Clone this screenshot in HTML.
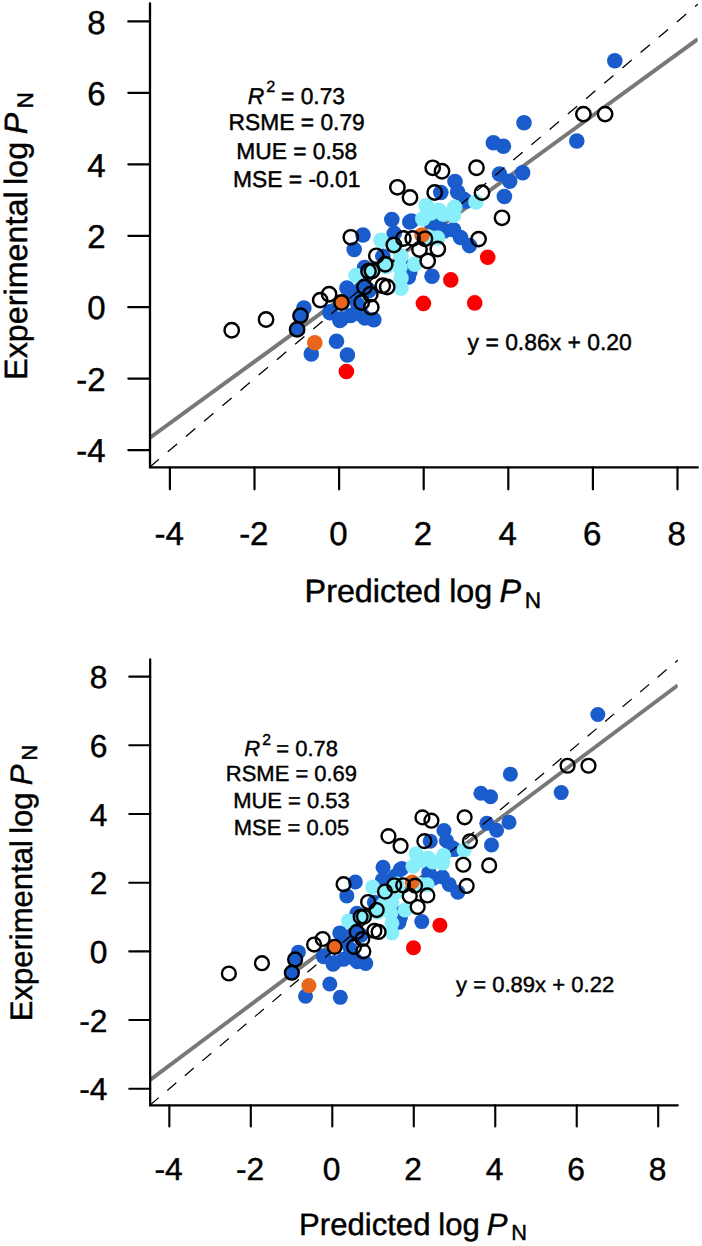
<!DOCTYPE html><html><head><meta charset="utf-8"><style>html,body{margin:0;padding:0;background:#fff;}svg{display:block}</style></head><body>
<svg width="702" height="1246" viewBox="0 0 702 1246" font-family='"Liberation Sans", sans-serif' fill="#000" text-rendering="geometricPrecision"><style>text{stroke:#000;stroke-width:0.45px}</style>
<rect width="702" height="1246" fill="#fff"/>
<g>
<defs><clipPath id="c1"><rect x="150.0" y="3.4" width="547.8" height="464.0"/></clipPath></defs>
<path d="M150.0,437.60L697.8,39.07" stroke="#787878" stroke-width="4.0" clip-path="url(#c1)"/>
<circle cx="583.4" cy="114.1" r="7.2" fill="#fff"/>
<circle cx="605.1" cy="114.1" r="7.2" fill="#fff"/>
<circle cx="476.5" cy="167.7" r="7.2" fill="#fff"/>
<circle cx="442.0" cy="171.2" r="7.2" fill="#fff"/>
<circle cx="432.7" cy="167.8" r="7.2" fill="#fff"/>
<circle cx="482.0" cy="192.6" r="7.2" fill="#fff"/>
<circle cx="502.0" cy="217.8" r="7.2" fill="#fff"/>
<circle cx="478.6" cy="239.1" r="7.2" fill="#fff"/>
<circle cx="397.4" cy="187.3" r="7.2" fill="#fff"/>
<circle cx="410.0" cy="197.5" r="7.2" fill="#fff"/>
<circle cx="434.7" cy="192.5" r="7.2" fill="#fff"/>
<circle cx="393.8" cy="245.0" r="7.2" fill="#fff"/>
<circle cx="403.4" cy="238.5" r="7.2" fill="#fff"/>
<circle cx="412.7" cy="238.5" r="7.2" fill="#fff"/>
<circle cx="425.0" cy="238.8" r="7.2" fill="#fff"/>
<circle cx="437.8" cy="249.0" r="7.2" fill="#fff"/>
<circle cx="419.5" cy="249.5" r="7.2" fill="#fff"/>
<circle cx="427.7" cy="261.0" r="7.2" fill="#fff"/>
<circle cx="350.8" cy="237.3" r="7.2" fill="#fff"/>
<circle cx="231.7" cy="330.2" r="7.2" fill="#fff"/>
<circle cx="266.05" cy="319.5" r="7.2" fill="#fff"/>
<circle cx="376.3" cy="255.8" r="7.2" fill="#fff"/>
<circle cx="385.2" cy="264.2" r="7.2" fill="#fff"/>
<circle cx="372.0" cy="271.0" r="7.2" fill="#fff"/>
<circle cx="368.5" cy="271.3" r="7.2" fill="#fff"/>
<circle cx="382.8" cy="285.8" r="7.2" fill="#fff"/>
<circle cx="387.2" cy="287.0" r="7.2" fill="#fff"/>
<circle cx="364.5" cy="287.0" r="7.2" fill="#fff"/>
<circle cx="370.3" cy="294.3" r="7.2" fill="#fff"/>
<circle cx="361.7" cy="302.5" r="7.2" fill="#fff"/>
<circle cx="371.3" cy="307.2" r="7.2" fill="#fff"/>
<circle cx="320.2" cy="300.1" r="7.2" fill="#fff"/>
<circle cx="329.1" cy="294.3" r="7.2" fill="#fff"/>
<circle cx="614.8" cy="60.7" r="7.8" fill="#1a5ccc"/>
<circle cx="576.8" cy="141.0" r="7.8" fill="#1a5ccc"/>
<circle cx="524.0" cy="122.8" r="7.8" fill="#1a5ccc"/>
<circle cx="493.4" cy="142.7" r="7.8" fill="#1a5ccc"/>
<circle cx="503.4" cy="146.3" r="7.8" fill="#1a5ccc"/>
<circle cx="455.0" cy="181.5" r="7.8" fill="#1a5ccc"/>
<circle cx="499.5" cy="174.0" r="7.8" fill="#1a5ccc"/>
<circle cx="509.7" cy="181.2" r="7.8" fill="#1a5ccc"/>
<circle cx="522.6" cy="172.8" r="7.8" fill="#1a5ccc"/>
<circle cx="440.8" cy="192.5" r="7.8" fill="#1a5ccc"/>
<circle cx="457.6" cy="192.1" r="7.8" fill="#1a5ccc"/>
<circle cx="466.0" cy="201.3" r="7.8" fill="#1a5ccc"/>
<circle cx="504.4" cy="196.5" r="7.8" fill="#1a5ccc"/>
<circle cx="444.3" cy="231.0" r="7.8" fill="#1a5ccc"/>
<circle cx="453.5" cy="229.8" r="7.8" fill="#1a5ccc"/>
<circle cx="460.5" cy="237.5" r="7.8" fill="#1a5ccc"/>
<circle cx="469.5" cy="245.6" r="7.8" fill="#1a5ccc"/>
<circle cx="439.3" cy="225.2" r="7.8" fill="#1a5ccc"/>
<circle cx="391.8" cy="219.6" r="7.8" fill="#1a5ccc"/>
<circle cx="409.8" cy="222.0" r="7.8" fill="#1a5ccc"/>
<circle cx="363.0" cy="235.0" r="7.8" fill="#1a5ccc"/>
<circle cx="354.2" cy="249.5" r="7.8" fill="#1a5ccc"/>
<circle cx="432.0" cy="276.2" r="7.8" fill="#1a5ccc"/>
<circle cx="409.8" cy="272.0" r="7.8" fill="#1a5ccc"/>
<circle cx="408.4" cy="277.0" r="7.8" fill="#1a5ccc"/>
<circle cx="303.9" cy="308.0" r="7.8" fill="#1a5ccc"/>
<circle cx="300.5" cy="315.6" r="7.8" fill="#1a5ccc"/>
<circle cx="297.1" cy="329.4" r="7.8" fill="#1a5ccc"/>
<circle cx="311.3" cy="353.9" r="7.8" fill="#1a5ccc"/>
<circle cx="336.5" cy="341.2" r="7.8" fill="#1a5ccc"/>
<circle cx="347.4" cy="355.0" r="7.8" fill="#1a5ccc"/>
<circle cx="330.1" cy="312.8" r="7.8" fill="#1a5ccc"/>
<circle cx="341.5" cy="318.8" r="7.8" fill="#1a5ccc"/>
<circle cx="350.7" cy="315.5" r="7.8" fill="#1a5ccc"/>
<circle cx="361.9" cy="314.9" r="7.8" fill="#1a5ccc"/>
<circle cx="373.8" cy="319.8" r="7.8" fill="#1a5ccc"/>
<circle cx="346.9" cy="288.0" r="7.8" fill="#1a5ccc"/>
<circle cx="339.9" cy="320.5" r="7.8" fill="#1a5ccc"/>
<circle cx="330.0" cy="311.9" r="7.8" fill="#1a5ccc"/>
<circle cx="352.0" cy="297.0" r="7.8" fill="#1a5ccc"/>
<circle cx="432" cy="226" r="7.8" fill="#1a5ccc"/>
<circle cx="356" cy="292" r="7.8" fill="#1a5ccc"/>
<circle cx="358" cy="305" r="7.8" fill="#1a5ccc"/>
<circle cx="365" cy="318" r="7.8" fill="#1a5ccc"/>
<circle cx="411.4" cy="221" r="7.8" fill="#1a5ccc"/>
<circle cx="394.2" cy="233.4" r="7.8" fill="#1a5ccc"/>
<circle cx="382.8" cy="256.2" r="7.8" fill="#1a5ccc"/>
<circle cx="409" cy="267.6" r="7.8" fill="#1a5ccc"/>
<circle cx="364.6" cy="267.6" r="7.8" fill="#1a5ccc"/>
<circle cx="363.4" cy="283.6" r="7.8" fill="#1a5ccc"/>
<circle cx="369.1" cy="290.4" r="7.8" fill="#1a5ccc"/>
<circle cx="463.8" cy="199.4" r="7.8" fill="#1a5ccc"/>
<path d="M149.6,467.2L697.8,4.3" stroke="#000" stroke-width="1.3" stroke-dasharray="12.2 11.6" fill="none"/>
<circle cx="431" cy="213" r="7.8" fill="#88eefa"/>
<circle cx="476.0" cy="202.0" r="7.8" fill="#88eefa"/>
<circle cx="454.7" cy="207.4" r="7.8" fill="#88eefa"/>
<circle cx="438.7" cy="210.2" r="7.8" fill="#88eefa"/>
<circle cx="426.2" cy="205.6" r="7.8" fill="#88eefa"/>
<circle cx="422.8" cy="218.7" r="7.8" fill="#88eefa"/>
<circle cx="453.6" cy="215.3" r="7.8" fill="#88eefa"/>
<circle cx="443.3" cy="214.2" r="7.8" fill="#88eefa"/>
<circle cx="381.1" cy="240.3" r="7.8" fill="#88eefa"/>
<circle cx="395.3" cy="246" r="7.8" fill="#88eefa"/>
<circle cx="401" cy="256.2" r="7.8" fill="#88eefa"/>
<circle cx="399.9" cy="267.6" r="7.8" fill="#88eefa"/>
<circle cx="401" cy="277.9" r="7.8" fill="#88eefa"/>
<circle cx="401" cy="288.1" r="7.8" fill="#88eefa"/>
<circle cx="414.7" cy="264.2" r="7.8" fill="#88eefa"/>
<circle cx="428.4" cy="236.8" r="7.8" fill="#88eefa"/>
<circle cx="437.5" cy="238" r="7.8" fill="#88eefa"/>
<circle cx="371.4" cy="271" r="7.8" fill="#88eefa"/>
<circle cx="386.2" cy="266.5" r="7.8" fill="#88eefa"/>
<circle cx="356" cy="275.5" r="7.8" fill="#88eefa"/>
<circle cx="422.0" cy="235.0" r="7.8" fill="#e8661c"/>
<circle cx="341.5" cy="302.5" r="7.8" fill="#e8661c"/>
<circle cx="314.8" cy="342.8" r="7.8" fill="#e8661c"/>
<circle cx="487.7" cy="257.3" r="7.8" fill="#fa0000"/>
<circle cx="450.8" cy="279.9" r="7.8" fill="#fa0000"/>
<circle cx="423.4" cy="303.4" r="7.8" fill="#fa0000"/>
<circle cx="474.7" cy="302.9" r="7.8" fill="#fa0000"/>
<circle cx="346.4" cy="371.5" r="7.8" fill="#fa0000"/>
<circle cx="583.4" cy="114.1" r="7.2" fill="none" stroke="#000" stroke-width="2.45"/>
<circle cx="605.1" cy="114.1" r="7.2" fill="none" stroke="#000" stroke-width="2.45"/>
<circle cx="476.5" cy="167.7" r="7.2" fill="none" stroke="#000" stroke-width="2.45"/>
<circle cx="442.0" cy="171.2" r="7.2" fill="none" stroke="#000" stroke-width="2.45"/>
<circle cx="432.7" cy="167.8" r="7.2" fill="none" stroke="#000" stroke-width="2.45"/>
<circle cx="482.0" cy="192.6" r="7.2" fill="none" stroke="#000" stroke-width="2.45"/>
<circle cx="502.0" cy="217.8" r="7.2" fill="none" stroke="#000" stroke-width="2.45"/>
<circle cx="478.6" cy="239.1" r="7.2" fill="none" stroke="#000" stroke-width="2.45"/>
<circle cx="397.4" cy="187.3" r="7.2" fill="none" stroke="#000" stroke-width="2.45"/>
<circle cx="410.0" cy="197.5" r="7.2" fill="none" stroke="#000" stroke-width="2.45"/>
<circle cx="434.7" cy="192.5" r="7.2" fill="none" stroke="#000" stroke-width="2.45"/>
<circle cx="393.8" cy="245.0" r="7.2" fill="none" stroke="#000" stroke-width="2.45"/>
<circle cx="403.4" cy="238.5" r="7.2" fill="none" stroke="#000" stroke-width="2.45"/>
<circle cx="412.7" cy="238.5" r="7.2" fill="none" stroke="#000" stroke-width="2.45"/>
<circle cx="425.0" cy="238.8" r="7.2" fill="none" stroke="#000" stroke-width="2.45"/>
<circle cx="437.8" cy="249.0" r="7.2" fill="none" stroke="#000" stroke-width="2.45"/>
<circle cx="419.5" cy="249.5" r="7.2" fill="none" stroke="#000" stroke-width="2.45"/>
<circle cx="427.7" cy="261.0" r="7.2" fill="none" stroke="#000" stroke-width="2.45"/>
<circle cx="350.8" cy="237.3" r="7.2" fill="none" stroke="#000" stroke-width="2.45"/>
<circle cx="231.7" cy="330.2" r="7.2" fill="none" stroke="#000" stroke-width="2.45"/>
<circle cx="266.05" cy="319.5" r="7.2" fill="none" stroke="#000" stroke-width="2.45"/>
<circle cx="376.3" cy="255.8" r="7.2" fill="none" stroke="#000" stroke-width="2.45"/>
<circle cx="385.2" cy="264.2" r="7.2" fill="none" stroke="#000" stroke-width="2.45"/>
<circle cx="372.0" cy="271.0" r="7.2" fill="none" stroke="#000" stroke-width="2.45"/>
<circle cx="368.5" cy="271.3" r="7.2" fill="none" stroke="#000" stroke-width="2.45"/>
<circle cx="382.8" cy="285.8" r="7.2" fill="none" stroke="#000" stroke-width="2.45"/>
<circle cx="387.2" cy="287.0" r="7.2" fill="none" stroke="#000" stroke-width="2.45"/>
<circle cx="364.5" cy="287.0" r="7.2" fill="none" stroke="#000" stroke-width="2.45"/>
<circle cx="370.3" cy="294.3" r="7.2" fill="none" stroke="#000" stroke-width="2.45"/>
<circle cx="361.7" cy="302.5" r="7.2" fill="none" stroke="#000" stroke-width="2.45"/>
<circle cx="371.3" cy="307.2" r="7.2" fill="none" stroke="#000" stroke-width="2.45"/>
<circle cx="320.2" cy="300.1" r="7.2" fill="none" stroke="#000" stroke-width="2.45"/>
<circle cx="329.1" cy="294.3" r="7.2" fill="none" stroke="#000" stroke-width="2.45"/>
<circle cx="297.1" cy="329.4" r="7.2" fill="none" stroke="#000" stroke-width="2.45"/>
<circle cx="300.5" cy="315.6" r="7.2" fill="none" stroke="#000" stroke-width="2.45"/>
<circle cx="341.5" cy="302.5" r="7.2" fill="none" stroke="#000" stroke-width="2.45"/>
<path d="M150.0,3.4V467.4H697.8" fill="none" stroke="#000" stroke-width="2.3" stroke-linecap="round" stroke-linejoin="miter"/>
<path d="M150.0,450.1H128.3" stroke="#000" stroke-width="2.2" stroke-linecap="round"/>
<text x="105.7" y="462.3" text-anchor="end" font-size="33">-4</text>
<path d="M169.9,467.4V489.3" stroke="#000" stroke-width="2.2" stroke-linecap="round"/>
<text x="169.2" y="544.6" text-anchor="middle" font-size="33">-4</text>
<path d="M150.0,378.6H128.3" stroke="#000" stroke-width="2.2" stroke-linecap="round"/>
<text x="105.7" y="390.8" text-anchor="end" font-size="33">-2</text>
<path d="M254.5,467.4V489.3" stroke="#000" stroke-width="2.2" stroke-linecap="round"/>
<text x="253.8" y="544.6" text-anchor="middle" font-size="33">-2</text>
<path d="M150.0,307.2H128.3" stroke="#000" stroke-width="2.2" stroke-linecap="round"/>
<text x="105.7" y="319.4" text-anchor="end" font-size="33">0</text>
<path d="M339.1,467.4V489.3" stroke="#000" stroke-width="2.2" stroke-linecap="round"/>
<text x="338.4" y="544.6" text-anchor="middle" font-size="33">0</text>
<path d="M150.0,235.8H128.3" stroke="#000" stroke-width="2.2" stroke-linecap="round"/>
<text x="105.7" y="247.9" text-anchor="end" font-size="33">2</text>
<path d="M423.7,467.4V489.3" stroke="#000" stroke-width="2.2" stroke-linecap="round"/>
<text x="423.0" y="544.6" text-anchor="middle" font-size="33">2</text>
<path d="M150.0,164.3H128.3" stroke="#000" stroke-width="2.2" stroke-linecap="round"/>
<text x="105.7" y="176.5" text-anchor="end" font-size="33">4</text>
<path d="M508.3,467.4V489.3" stroke="#000" stroke-width="2.2" stroke-linecap="round"/>
<text x="507.6" y="544.6" text-anchor="middle" font-size="33">4</text>
<path d="M150.0,92.8H128.3" stroke="#000" stroke-width="2.2" stroke-linecap="round"/>
<text x="105.7" y="105.0" text-anchor="end" font-size="33">6</text>
<path d="M592.9,467.4V489.3" stroke="#000" stroke-width="2.2" stroke-linecap="round"/>
<text x="592.2" y="544.6" text-anchor="middle" font-size="33">6</text>
<path d="M150.0,21.4H128.3" stroke="#000" stroke-width="2.2" stroke-linecap="round"/>
<text x="105.7" y="33.6" text-anchor="end" font-size="33">8</text>
<path d="M677.5,467.4V489.3" stroke="#000" stroke-width="2.2" stroke-linecap="round"/>
<text x="676.8" y="544.6" text-anchor="middle" font-size="33">8</text>
<text y="602.3" font-size="32.3"><tspan x="304.6">Predicted</tspan><tspan x="449.2">log</tspan><tspan x="499.5" font-style="italic">P</tspan><tspan x="524.8" y="607.8" font-size="22.6">N</tspan></text>
<g transform="translate(27.1,0) rotate(-90)"><text y="0" font-size="32.3"><tspan x="-379.9">Experimental</tspan><tspan x="-184.9">log</tspan><tspan x="-134.3" font-style="italic">P</tspan><tspan x="-108.6" y="5.6" font-size="22.6">N</tspan></text></g>
<text y="103.7" font-size="22.8"><tspan x="247.7" font-style="italic">R</tspan><tspan x="266.3" y="92.3" font-size="16.3">2</tspan><tspan x="281.0" y="103.7">= 0.73</tspan></text>
<text x="296.7" y="129.7" text-anchor="middle" font-size="22.8">RSME = 0.79</text>
<text x="296.7" y="158.5" text-anchor="middle" font-size="22.8">MUE = 0.58</text>
<text x="296.7" y="186.5" text-anchor="middle" font-size="22.8">MSE = -0.01</text>
<text x="467.6" y="349.5" font-size="22.9">y = 0.86x + 0.20</text>
</g>
<g transform="matrix(0.9631,0,0,0.9612,5.71,656.1)">
<defs><clipPath id="c2"><rect x="150.0" y="3.4" width="547.8" height="464.0"/></clipPath></defs>
<path d="M150.0,440.90L697.8,30.43" stroke="#787878" stroke-width="4.0" clip-path="url(#c2)"/>
<circle cx="614.8" cy="60.7" r="7.8" fill="#1a5ccc"/>
<circle cx="576.8" cy="142.0" r="7.8" fill="#1a5ccc"/>
<circle cx="524.0" cy="122.8" r="7.8" fill="#1a5ccc"/>
<circle cx="493.4" cy="142.7" r="7.8" fill="#1a5ccc"/>
<circle cx="503.4" cy="146.3" r="7.8" fill="#1a5ccc"/>
<circle cx="455.0" cy="181.5" r="7.8" fill="#1a5ccc"/>
<circle cx="499.5" cy="174.0" r="7.8" fill="#1a5ccc"/>
<circle cx="509.7" cy="181.2" r="7.8" fill="#1a5ccc"/>
<circle cx="522.6" cy="172.8" r="7.8" fill="#1a5ccc"/>
<circle cx="440.8" cy="192.5" r="7.8" fill="#1a5ccc"/>
<circle cx="457.6" cy="192.1" r="7.8" fill="#1a5ccc"/>
<circle cx="466.0" cy="201.3" r="7.8" fill="#1a5ccc"/>
<circle cx="504.4" cy="196.5" r="7.8" fill="#1a5ccc"/>
<circle cx="444.3" cy="231.0" r="7.8" fill="#1a5ccc"/>
<circle cx="453.5" cy="229.8" r="7.8" fill="#1a5ccc"/>
<circle cx="460.5" cy="237.5" r="7.8" fill="#1a5ccc"/>
<circle cx="469.5" cy="245.6" r="7.8" fill="#1a5ccc"/>
<circle cx="439.3" cy="225.2" r="7.8" fill="#1a5ccc"/>
<circle cx="391.8" cy="219.6" r="7.8" fill="#1a5ccc"/>
<circle cx="409.8" cy="222.0" r="7.8" fill="#1a5ccc"/>
<circle cx="363.0" cy="235.0" r="7.8" fill="#1a5ccc"/>
<circle cx="354.2" cy="249.5" r="7.8" fill="#1a5ccc"/>
<circle cx="432.0" cy="276.2" r="7.8" fill="#1a5ccc"/>
<circle cx="409.8" cy="272.0" r="7.8" fill="#1a5ccc"/>
<circle cx="408.4" cy="277.0" r="7.8" fill="#1a5ccc"/>
<circle cx="303.9" cy="308.0" r="7.8" fill="#1a5ccc"/>
<circle cx="300.5" cy="315.6" r="7.8" fill="#1a5ccc"/>
<circle cx="297.1" cy="329.4" r="7.8" fill="#1a5ccc"/>
<circle cx="311.3" cy="353.9" r="7.8" fill="#1a5ccc"/>
<circle cx="336.5" cy="341.2" r="7.8" fill="#1a5ccc"/>
<circle cx="347.4" cy="355.0" r="7.8" fill="#1a5ccc"/>
<circle cx="330.1" cy="312.8" r="7.8" fill="#1a5ccc"/>
<circle cx="341.5" cy="318.8" r="7.8" fill="#1a5ccc"/>
<circle cx="350.7" cy="315.5" r="7.8" fill="#1a5ccc"/>
<circle cx="361.9" cy="314.9" r="7.8" fill="#1a5ccc"/>
<circle cx="373.8" cy="319.8" r="7.8" fill="#1a5ccc"/>
<circle cx="346.9" cy="288.0" r="7.8" fill="#1a5ccc"/>
<circle cx="339.9" cy="320.5" r="7.8" fill="#1a5ccc"/>
<circle cx="330.0" cy="311.9" r="7.8" fill="#1a5ccc"/>
<circle cx="352.0" cy="297.0" r="7.8" fill="#1a5ccc"/>
<circle cx="391.2" cy="232.8" r="7.8" fill="#1a5ccc"/>
<circle cx="356" cy="292" r="7.8" fill="#1a5ccc"/>
<circle cx="358" cy="305" r="7.8" fill="#1a5ccc"/>
<circle cx="365" cy="318" r="7.8" fill="#1a5ccc"/>
<circle cx="411.4" cy="221" r="7.8" fill="#1a5ccc"/>
<circle cx="394.2" cy="233.4" r="7.8" fill="#1a5ccc"/>
<circle cx="382.8" cy="256.2" r="7.8" fill="#1a5ccc"/>
<circle cx="409" cy="267.6" r="7.8" fill="#1a5ccc"/>
<circle cx="364.6" cy="267.6" r="7.8" fill="#1a5ccc"/>
<circle cx="363.4" cy="283.6" r="7.8" fill="#1a5ccc"/>
<circle cx="369.1" cy="290.4" r="7.8" fill="#1a5ccc"/>
<circle cx="463.8" cy="199.4" r="7.8" fill="#1a5ccc"/>
<circle cx="404.2" cy="228.8" r="7.8" fill="#1a5ccc"/>
<path d="M149.6,467.2L697.8,4.3" stroke="#000" stroke-width="1.3" stroke-dasharray="12.2 11.6" fill="none"/>
<circle cx="431" cy="213" r="7.8" fill="#88eefa"/>
<circle cx="476.0" cy="202.0" r="7.8" fill="#88eefa"/>
<circle cx="454.7" cy="207.4" r="7.8" fill="#88eefa"/>
<circle cx="438.7" cy="210.2" r="7.8" fill="#88eefa"/>
<circle cx="426.2" cy="205.6" r="7.8" fill="#88eefa"/>
<circle cx="422.8" cy="218.7" r="7.8" fill="#88eefa"/>
<circle cx="453.6" cy="215.3" r="7.8" fill="#88eefa"/>
<circle cx="443.3" cy="214.2" r="7.8" fill="#88eefa"/>
<circle cx="381.1" cy="240.3" r="7.8" fill="#88eefa"/>
<circle cx="395.3" cy="246" r="7.8" fill="#88eefa"/>
<circle cx="401" cy="256.2" r="7.8" fill="#88eefa"/>
<circle cx="399.9" cy="267.6" r="7.8" fill="#88eefa"/>
<circle cx="401" cy="277.9" r="7.8" fill="#88eefa"/>
<circle cx="401" cy="288.1" r="7.8" fill="#88eefa"/>
<circle cx="414.7" cy="264.2" r="7.8" fill="#88eefa"/>
<circle cx="428.4" cy="236.8" r="7.8" fill="#88eefa"/>
<circle cx="437.5" cy="238" r="7.8" fill="#88eefa"/>
<circle cx="371.4" cy="271" r="7.8" fill="#88eefa"/>
<circle cx="386.2" cy="266.5" r="7.8" fill="#88eefa"/>
<circle cx="356" cy="275.5" r="7.8" fill="#88eefa"/>
<circle cx="406.3" cy="237.1" r="7.8" fill="#88eefa"/>
<circle cx="403.0" cy="239.5" r="7.8" fill="#88eefa"/>
<circle cx="392.4" cy="258.0" r="7.8" fill="#88eefa"/>
<circle cx="407.7" cy="244.8" r="7.8" fill="#88eefa"/>
<circle cx="422.0" cy="235.0" r="7.8" fill="#e8661c"/>
<circle cx="341.5" cy="302.5" r="7.8" fill="#e8661c"/>
<circle cx="314.8" cy="342.8" r="7.8" fill="#e8661c"/>
<circle cx="450.8" cy="279.9" r="7.8" fill="#fa0000"/>
<circle cx="423.4" cy="303.4" r="7.8" fill="#fa0000"/>
<circle cx="583.4" cy="114.1" r="7.2" fill="none" stroke="#000" stroke-width="2.45"/>
<circle cx="605.1" cy="114.1" r="7.2" fill="none" stroke="#000" stroke-width="2.45"/>
<circle cx="476.5" cy="167.7" r="7.2" fill="none" stroke="#000" stroke-width="2.45"/>
<circle cx="442.0" cy="171.2" r="7.2" fill="none" stroke="#000" stroke-width="2.45"/>
<circle cx="432.7" cy="167.8" r="7.2" fill="none" stroke="#000" stroke-width="2.45"/>
<circle cx="482.0" cy="192.6" r="7.2" fill="none" stroke="#000" stroke-width="2.45"/>
<circle cx="502.0" cy="217.8" r="7.2" fill="none" stroke="#000" stroke-width="2.45"/>
<circle cx="478.6" cy="239.1" r="7.2" fill="none" stroke="#000" stroke-width="2.45"/>
<circle cx="397.4" cy="187.3" r="7.2" fill="none" stroke="#000" stroke-width="2.45"/>
<circle cx="410.0" cy="197.5" r="7.2" fill="none" stroke="#000" stroke-width="2.45"/>
<circle cx="434.7" cy="192.5" r="7.2" fill="none" stroke="#000" stroke-width="2.45"/>
<circle cx="393.8" cy="245.0" r="7.2" fill="none" stroke="#000" stroke-width="2.45"/>
<circle cx="403.4" cy="238.5" r="7.2" fill="none" stroke="#000" stroke-width="2.45"/>
<circle cx="412.7" cy="238.5" r="7.2" fill="none" stroke="#000" stroke-width="2.45"/>
<circle cx="425.0" cy="238.8" r="7.2" fill="none" stroke="#000" stroke-width="2.45"/>
<circle cx="437.8" cy="249.0" r="7.2" fill="none" stroke="#000" stroke-width="2.45"/>
<circle cx="419.5" cy="249.5" r="7.2" fill="none" stroke="#000" stroke-width="2.45"/>
<circle cx="427.7" cy="261.0" r="7.2" fill="none" stroke="#000" stroke-width="2.45"/>
<circle cx="350.8" cy="237.3" r="7.2" fill="none" stroke="#000" stroke-width="2.45"/>
<circle cx="231.7" cy="330.2" r="7.2" fill="none" stroke="#000" stroke-width="2.45"/>
<circle cx="266.05" cy="319.5" r="7.2" fill="none" stroke="#000" stroke-width="2.45"/>
<circle cx="376.3" cy="255.8" r="7.2" fill="none" stroke="#000" stroke-width="2.45"/>
<circle cx="385.2" cy="264.2" r="7.2" fill="none" stroke="#000" stroke-width="2.45"/>
<circle cx="372.0" cy="271.0" r="7.2" fill="none" stroke="#000" stroke-width="2.45"/>
<circle cx="368.5" cy="271.3" r="7.2" fill="none" stroke="#000" stroke-width="2.45"/>
<circle cx="382.8" cy="285.8" r="7.2" fill="none" stroke="#000" stroke-width="2.45"/>
<circle cx="387.2" cy="287.0" r="7.2" fill="none" stroke="#000" stroke-width="2.45"/>
<circle cx="364.5" cy="287.0" r="7.2" fill="none" stroke="#000" stroke-width="2.45"/>
<circle cx="370.3" cy="294.3" r="7.2" fill="none" stroke="#000" stroke-width="2.45"/>
<circle cx="361.7" cy="302.5" r="7.2" fill="none" stroke="#000" stroke-width="2.45"/>
<circle cx="371.3" cy="307.2" r="7.2" fill="none" stroke="#000" stroke-width="2.45"/>
<circle cx="320.2" cy="300.1" r="7.2" fill="none" stroke="#000" stroke-width="2.45"/>
<circle cx="329.1" cy="294.3" r="7.2" fill="none" stroke="#000" stroke-width="2.45"/>
<circle cx="475.1" cy="217.1" r="7.2" fill="none" stroke="#000" stroke-width="2.45"/>
<circle cx="297.1" cy="329.4" r="7.2" fill="none" stroke="#000" stroke-width="2.45"/>
<circle cx="300.5" cy="315.6" r="7.2" fill="none" stroke="#000" stroke-width="2.45"/>
<circle cx="341.5" cy="302.5" r="7.2" fill="none" stroke="#000" stroke-width="2.45"/>
<path d="M150.0,3.4V467.4H697.8" fill="none" stroke="#000" stroke-width="2.3" stroke-linecap="round" stroke-linejoin="miter"/>
<path d="M150.0,450.1H128.3" stroke="#000" stroke-width="2.2" stroke-linecap="round"/>
<text x="105.7" y="462.3" text-anchor="end" font-size="33">-4</text>
<path d="M169.9,467.4V489.3" stroke="#000" stroke-width="2.2" stroke-linecap="round"/>
<text x="169.2" y="544.6" text-anchor="middle" font-size="33">-4</text>
<path d="M150.0,378.6H128.3" stroke="#000" stroke-width="2.2" stroke-linecap="round"/>
<text x="105.7" y="390.8" text-anchor="end" font-size="33">-2</text>
<path d="M254.5,467.4V489.3" stroke="#000" stroke-width="2.2" stroke-linecap="round"/>
<text x="253.8" y="544.6" text-anchor="middle" font-size="33">-2</text>
<path d="M150.0,307.2H128.3" stroke="#000" stroke-width="2.2" stroke-linecap="round"/>
<text x="105.7" y="319.4" text-anchor="end" font-size="33">0</text>
<path d="M339.1,467.4V489.3" stroke="#000" stroke-width="2.2" stroke-linecap="round"/>
<text x="338.4" y="544.6" text-anchor="middle" font-size="33">0</text>
<path d="M150.0,235.8H128.3" stroke="#000" stroke-width="2.2" stroke-linecap="round"/>
<text x="105.7" y="247.9" text-anchor="end" font-size="33">2</text>
<path d="M423.7,467.4V489.3" stroke="#000" stroke-width="2.2" stroke-linecap="round"/>
<text x="423.0" y="544.6" text-anchor="middle" font-size="33">2</text>
<path d="M150.0,164.3H128.3" stroke="#000" stroke-width="2.2" stroke-linecap="round"/>
<text x="105.7" y="176.5" text-anchor="end" font-size="33">4</text>
<path d="M508.3,467.4V489.3" stroke="#000" stroke-width="2.2" stroke-linecap="round"/>
<text x="507.6" y="544.6" text-anchor="middle" font-size="33">4</text>
<path d="M150.0,92.8H128.3" stroke="#000" stroke-width="2.2" stroke-linecap="round"/>
<text x="105.7" y="105.0" text-anchor="end" font-size="33">6</text>
<path d="M592.9,467.4V489.3" stroke="#000" stroke-width="2.2" stroke-linecap="round"/>
<text x="592.2" y="544.6" text-anchor="middle" font-size="33">6</text>
<path d="M150.0,21.4H128.3" stroke="#000" stroke-width="2.2" stroke-linecap="round"/>
<text x="105.7" y="33.6" text-anchor="end" font-size="33">8</text>
<path d="M677.5,467.4V489.3" stroke="#000" stroke-width="2.2" stroke-linecap="round"/>
<text x="676.8" y="544.6" text-anchor="middle" font-size="33">8</text>
<text y="602.3" font-size="32.3"><tspan x="304.6">Predicted</tspan><tspan x="449.2">log</tspan><tspan x="499.5" font-style="italic">P</tspan><tspan x="524.8" y="607.8" font-size="22.6">N</tspan></text>
<g transform="translate(27.1,0) rotate(-90)"><text y="0" font-size="32.3"><tspan x="-379.9">Experimental</tspan><tspan x="-184.9">log</tspan><tspan x="-134.3" font-style="italic">P</tspan><tspan x="-108.6" y="5.6" font-size="22.6">N</tspan></text></g>
<text y="103.7" font-size="22.8"><tspan x="247.7" font-style="italic">R</tspan><tspan x="266.3" y="92.3" font-size="16.3">2</tspan><tspan x="281.0" y="103.7">= 0.78</tspan></text>
<text x="296.7" y="129.7" text-anchor="middle" font-size="22.8">RSME = 0.69</text>
<text x="296.7" y="158.5" text-anchor="middle" font-size="22.8">MUE = 0.53</text>
<text x="296.7" y="186.5" text-anchor="middle" font-size="22.8">MSE = 0.05</text>
<text x="467.6" y="349.5" font-size="22.9">y = 0.89x + 0.22</text>
</g>
</svg></body></html>
